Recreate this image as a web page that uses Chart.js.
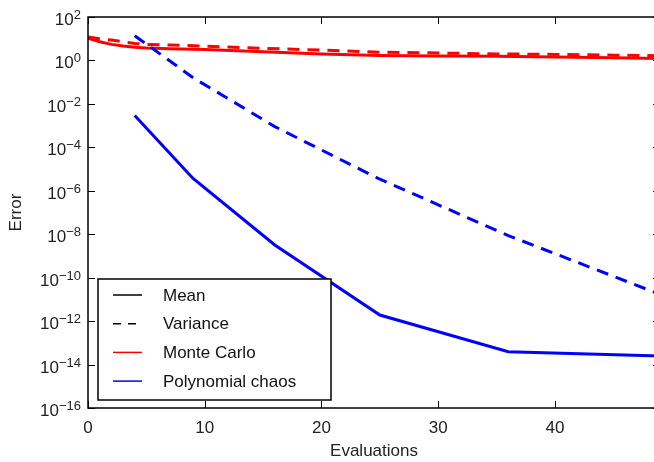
<!DOCTYPE html>
<html>
<head>
<meta charset="utf-8">
<script src="https://cdn.jsdelivr.net/npm/chart.js@4.4.0/dist/chart.umd.min.js"></script>
<style>
  html, body { margin: 0; padding: 0; background: #fff; overflow: hidden; width: 654px; height: 462px; }
  canvas { display: block; }
</style>
</head>
<body>
<canvas id="errChart" width="662" height="462"></canvas>
<script>
// Monte Carlo runs
const mcEvals = [0, 1, 2, 3, 4, 5, 7, 10, 15, 20, 25, 30, 35, 40, 45, 49];
const mcMean = [10.5, 7.2, 5.5, 4.6, 4.1, 3.7, 3.5, 3.2, 2.5, 2.0, 1.7, 1.6, 1.55, 1.45, 1.33, 1.24];
const mcVar = [12, 10, 8.7, 7.2, 6.1, 5.5, 5.1, 4.6, 3.6, 3.0, 2.4, 2.2, 2.0, 1.9, 1.75, 1.65];

// Polynomial chaos
const pcEvals = [4, 9, 16, 25, 36, 49];
const pcMean = [2.9e-3, 3.7e-6, 3.2e-9, 1.9e-12, 3.9e-14, 2.5e-14];
const pcVar = [13.8, 0.16, 9e-4, 3.4e-6, 8.7e-9, 1.7e-11];

const xTicks = [0, 10, 20, 30, 40];
const yExponents = [-16, -14, -12, -10, -8, -6, -4, -2, 0, 2];
const legendLabels = ["Mean", "Variance", "Monte Carlo", "Polynomial chaos"];

const RED = "#ff0000";
const BLUE = "#0000ff";
const FONT = "'Liberation Sans', Arial, sans-serif";
const DASH = [12, 8];

function pts(xs, ys) {
  return xs.map((x, i) => ({ x: x, y: ys[i] }));
}

// frame, inward ticks, superscript y labels and the boxed legend
const decorPlugin = {
  id: "decor",
  afterDatasetsDraw(chart) {
    const { ctx, chartArea: ca, scales } = chart;
    const tick = 7;
    ctx.save();
    ctx.strokeStyle = "#000";
    ctx.lineWidth = 1.5;
    ctx.setLineDash([]);
    ctx.strokeRect(ca.left, ca.top, ca.right - ca.left, ca.bottom - ca.top);

    ctx.lineWidth = 1;
    ctx.beginPath();
    xTicks.forEach((v) => {
      const px = Math.round(scales.x.getPixelForValue(v)) + 0.5;
      ctx.moveTo(px, ca.bottom); ctx.lineTo(px, ca.bottom - tick);
      ctx.moveTo(px, ca.top); ctx.lineTo(px, ca.top + tick);
    });
    yExponents.forEach((e) => {
      const py = Math.round(scales.y.getPixelForValue(Math.pow(10, e))) + 0.5;
      ctx.moveTo(ca.left, py); ctx.lineTo(ca.left + tick, py);
      ctx.moveTo(ca.right, py); ctx.lineTo(ca.right - tick, py);
    });
    ctx.stroke();

    // y tick labels: 10 with raised exponent
    ctx.fillStyle = "#222";
    ctx.textBaseline = "alphabetic";
    const rightEdge = ca.left - 7;
    yExponents.forEach((e) => {
      const py = scales.y.getPixelForValue(Math.pow(10, e));
      const expTxt = e < 0 ? "\u2212" + Math.abs(e) : String(e);
      ctx.font = "13px " + FONT;
      const w2 = ctx.measureText(expTxt).width;
      ctx.textAlign = "left";
      ctx.fillText(expTxt, rightEdge - w2, py + 2);
      ctx.font = "17px " + FONT;
      ctx.textAlign = "right";
      ctx.fillText("10", rightEdge - w2, py + 8);
    });

    // legend
    const lx = ca.left + 10, ly = ca.top + 262, lw = 233, lh = 121;
    ctx.fillStyle = "#fff";
    ctx.fillRect(lx, ly, lw, lh);
    ctx.strokeStyle = "#000";
    ctx.lineWidth = 1.5;
    ctx.strokeRect(lx, ly, lw, lh);
    const styles = [
      { color: "#000", dash: [] },
      { color: "#000", dash: [8, 7] },
      { color: RED, dash: [] },
      { color: BLUE, dash: [] }
    ];
    ctx.font = "17px " + FONT;
    ctx.textAlign = "left";
    ctx.textBaseline = "middle";
    legendLabels.forEach((lab, i) => {
      const ry = ly + 16 + i * 28.7;
      ctx.strokeStyle = styles[i].color;
      ctx.setLineDash(styles[i].dash);
      ctx.lineWidth = 1.5;
      ctx.beginPath();
      ctx.moveTo(lx + 15, ry);
      ctx.lineTo(lx + 44, ry);
      ctx.stroke();
      ctx.fillStyle = "#111";
      ctx.fillText(lab, lx + 65, ry + 1);
    });
    ctx.restore();
  }
};

const ctx = document.getElementById("errChart").getContext("2d");
const chart = new Chart(ctx, {
  type: "line",
  data: {
    datasets: [
      { label: "PC variance", data: pts(pcEvals, pcVar), borderColor: BLUE, borderWidth: 3, borderDash: DASH },
      { label: "PC mean", data: pts(pcEvals, pcMean), borderColor: BLUE, borderWidth: 3 },
      { label: "MC variance", data: pts(mcEvals, mcVar), borderColor: RED, borderWidth: 3, borderDash: DASH },
      { label: "MC mean", data: pts(mcEvals, mcMean), borderColor: RED, borderWidth: 3 }
    ]
  },
  options: {
    responsive: false,
    animation: false,
    events: [],
    elements: { point: { radius: 0 }, line: { tension: 0, fill: false } },
    layout: { padding: { top: 17, right: 2, left: 0, bottom: 0 } },
    plugins: { legend: { display: false }, tooltip: { enabled: false } },
    scales: {
      x: {
        type: "linear",
        min: 0,
        max: 49,
        grid: { display: false },
        border: { display: false },
        afterBuildTicks: (scale) => { scale.ticks = xTicks.map((v) => ({ value: v })); },
        afterFit: (scale) => { scale.height = 54; },
        ticks: { color: "#222", padding: 2, font: { family: FONT, size: 17 }, maxRotation: 0 },
        title: { display: true, text: "Evaluations", color: "#222", padding: { top: 0, bottom: 0 }, font: { family: FONT, size: 17 } }
      },
      y: {
        type: "logarithmic",
        min: 1e-16,
        max: 1e2,
        grid: { display: false },
        border: { display: false },
        afterBuildTicks: (scale) => { scale.ticks = yExponents.map((e) => ({ value: Math.pow(10, e) })); },
        afterFit: (scale) => { scale.width = 88; },
        ticks: { display: false },
        title: { display: true, text: "Error", color: "#222", padding: { top: 6, bottom: 0 }, font: { family: FONT, size: 17 } }
      }
    }
  },
  plugins: [decorPlugin]
});
</script>
</body>
</html>
